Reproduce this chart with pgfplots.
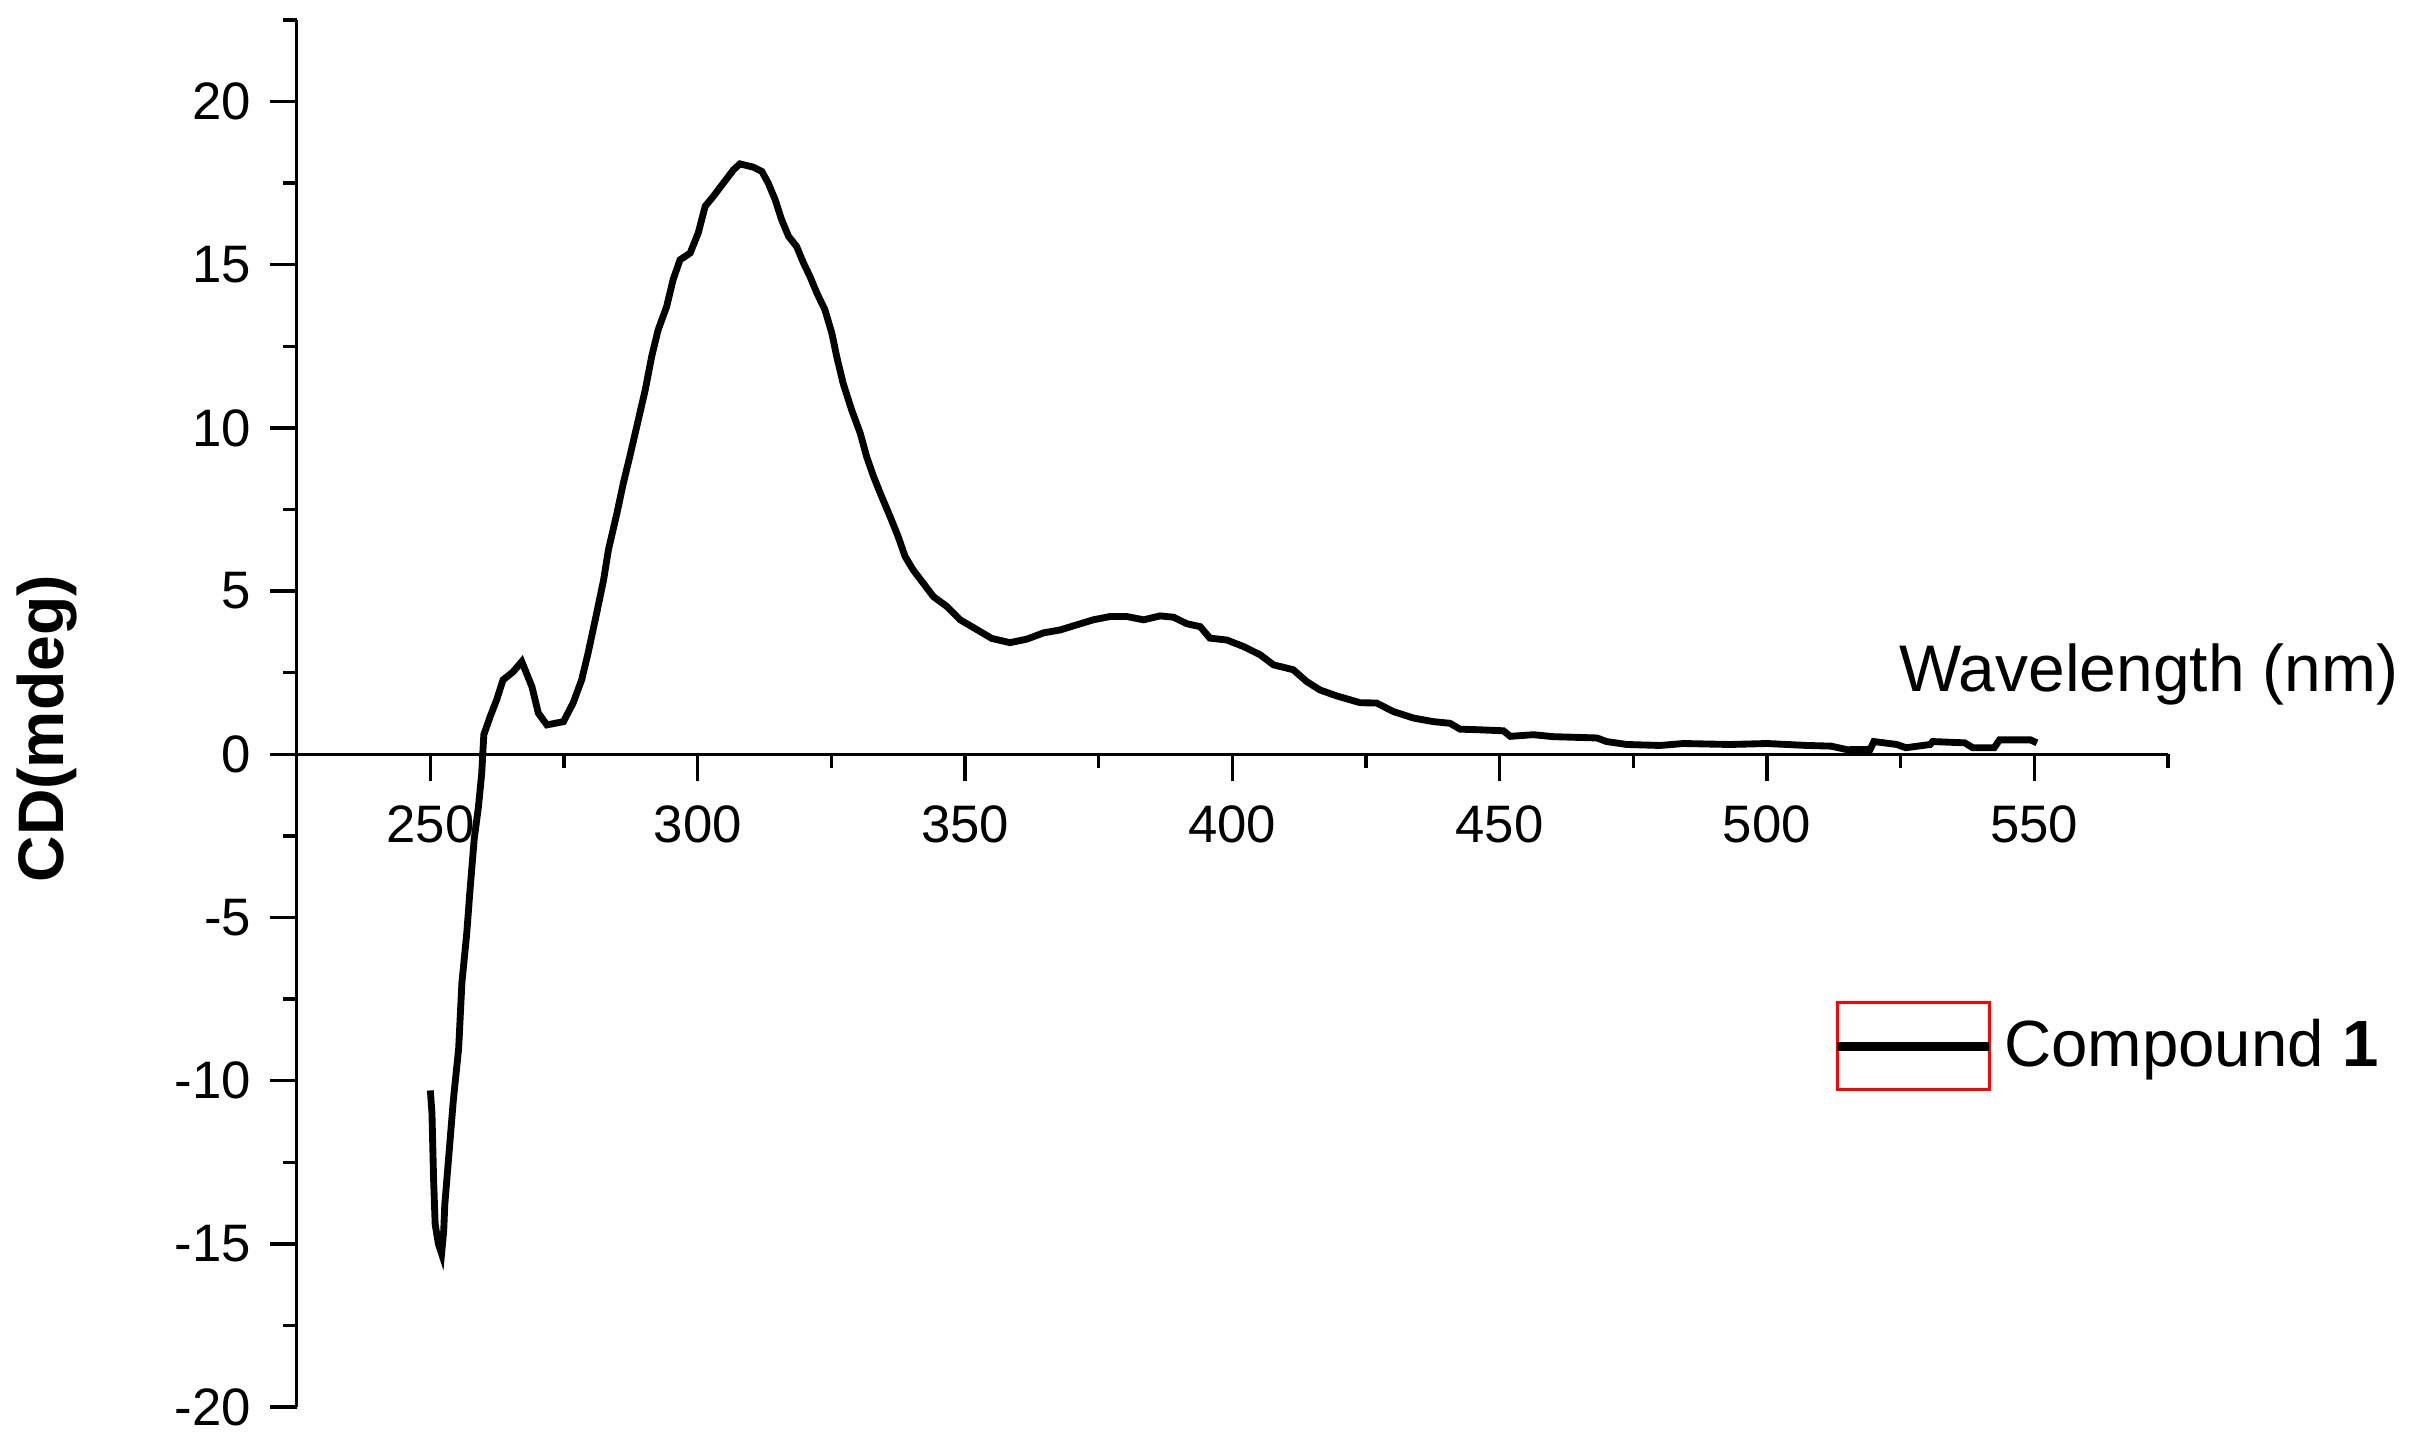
\documentclass[border=0pt]{standalone}
\usepackage{fontspec}
\setmainfont{Liberation Sans}
\usepackage{pgfplots}
\pgfplotsset{compat=1.18}
\usepackage{pgfplotstable}

\pgfplotstableread{
wl cd
250.0 -10.3
250.3 -11.0
250.6 -13.0
250.9 -14.4
251.5 -15.0
252.1 -15.3
252.5 -14.6
252.7 -13.8
253.5 -12.2
254.3 -10.6
254.8 -9.8
255.3 -9.0
255.9 -7.0
256.8 -5.5
257.4 -4.2
258.2 -2.6
259.0 -1.6
259.6 -0.6
260.0 0.6
261.2 1.16
262.4 1.67
263.6 2.28
265.5 2.53
267.1 2.84
269.0 2.07
270.2 1.26
271.8 0.90
274.9 1.00
276.7 1.57
278.3 2.28
279.5 3.1
281.1 4.32
282.4 5.34
283.3 6.26
284.9 7.39
286.1 8.31
287.3 9.12
288.9 10.25
290.2 11.17
291.4 12.19
292.6 13.0
294.2 13.72
295.4 14.54
296.7 15.15
298.6 15.36
300.1 15.97
301.4 16.79
302.9 17.09
304.8 17.5
306.7 17.91
307.9 18.09
310.4 17.99
312.0 17.86
313.2 17.5
314.5 16.99
315.7 16.38
317.0 15.87
318.5 15.56
319.8 15.05
321.0 14.64
322.3 14.13
323.8 13.62
325.1 12.9
326.0 12.19
327.2 11.37
328.8 10.55
330.4 9.84
331.6 9.12
332.9 8.51
334.4 7.9
336.0 7.28
337.5 6.67
338.8 6.06
340.3 5.65
342.2 5.24
344.1 4.83
346.6 4.53
349.1 4.12
351.6 3.88
355.0 3.55
358.4 3.42
361.6 3.53
364.7 3.72
367.8 3.81
370.6 3.95
374.0 4.12
377.1 4.22
380.3 4.22
383.4 4.12
386.5 4.24
389.0 4.2
391.5 4.0
394.0 3.91
395.8 3.56
399.0 3.5
402.1 3.3
405.2 3.05
407.7 2.74
411.4 2.59
413.9 2.23
416.4 1.97
419.5 1.79
423.9 1.58
427.0 1.57
430.1 1.31
433.9 1.11
437.6 1.00
440.7 0.95
442.6 0.77
446.3 0.75
450.7 0.72
452.0 0.55
456.3 0.6
460.0 0.54
468.2 0.5
470.0 0.39
473.8 0.3
480.0 0.27
484.4 0.33
493.1 0.30
500.0 0.33
507.5 0.27
512.0 0.25
515.0 0.14
519.3 0.15
520.0 0.39
524.3 0.30
526.0 0.2
530.5 0.3
531.0 0.39
537.0 0.35
538.5 0.2
542.5 0.2
543.5 0.44
549.3 0.44
550.5 0.35
}\cdtable

\begin{document}
\begin{tikzpicture}
\begin{axis}[
    scale only axis,
    width=12.475cm, height=9.247cm,
    xmin=225, xmax=575,
    ymin=-20, ymax=22.5,
    axis x line=middle,
    axis y line=left,
    axis line style={-, line width=0.65pt, black},
    hide obscured x ticks=false,
    hide obscured y ticks=false,
    xtick={250,300,...,550},
    minor xtick={275,325,...,575},
    ytick={-20,-15,...,20},
    minor ytick={-17.5,-12.5,...,22.5},
    tick align=outside,
    major tick length=0.18cm,
    minor tick length=0.09cm,
    tick style={black, line width=0.65pt},
    /pgf/number format/assume math mode=true,
    ticklabel style={font=\fontsize{10}{12}\selectfont},
    xticklabel style={yshift=-0.04cm},
    xlabel={Wavelength (nm)},
    xlabel style={at={(axis description cs:0.8558,0.5155)}, anchor=base west,
        inner sep=0pt, font=\fontsize{12.5}{15}\selectfont},
    ylabel={\textbf{CD(mdeg)}},
    ylabel style={at={(axis description cs:-0.1335,0.489)}, anchor=center,
        inner sep=0pt, font=\fontsize{12.2}{15}\selectfont},
    legend style={at={(axis cs:512.2,-8.95)}, anchor=west, draw=none, fill=none,
        inner sep=0pt, font=\fontsize{12.4}{14}\selectfont,
        /tikz/every even column/.append style={column sep=0.13cm}},
    legend cell align=left,
    clip=false,
]
\addplot[black, line width=1.3pt, line join=miter,
    legend image code/.code={
        \draw[red, line width=0.6pt] (0cm,-0.29cm) rectangle (1.013cm,0.29cm);
        \draw[black, line width=1.6pt] (0cm,0cm) -- (1.013cm,0cm);}]
    table[x=wl, y=cd] {\cdtable};
\addlegendentry{Compound \textbf{1}}
\coordinate (sw) at (rel axis cs:0,0);
\end{axis}
\pgfresetboundingbox
\path[use as bounding box] ([shift={(-1.978cm,-0.22cm)}]sw) rectangle ++(16.16cm,9.6cm);
\end{tikzpicture}
\end{document}
